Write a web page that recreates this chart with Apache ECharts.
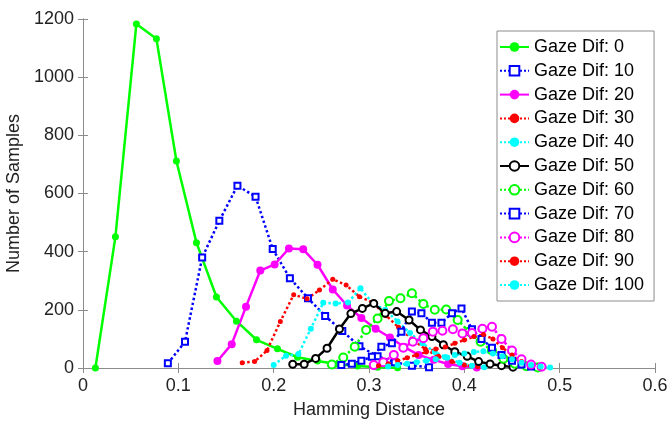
<!DOCTYPE html>
<html>
<head>
<meta charset="utf-8">
<script src="https://cdn.jsdelivr.net/npm/echarts@6/dist/echarts.min.js"></script>
<style>html,body{margin:0;padding:0;background:#fff}#c{width:670px;height:423px}</style>
</head>
<body>
<div id="c"></div>
<script>
var names = ['Gaze Dif: 0','Gaze Dif: 10','Gaze Dif: 20','Gaze Dif: 30','Gaze Dif: 40','Gaze Dif: 50','Gaze Dif: 60','Gaze Dif: 70','Gaze Dif: 80','Gaze Dif: 90','Gaze Dif: 100'];
var xTicks = [0, 0.1, 0.2, 0.3, 0.4, 0.5, 0.6];
var yTicks = [0, 200, 400, 600, 800, 1000, 1200];

var x0 = [0.013,0.034,0.056,0.077,0.098,0.119,0.140,0.161,0.182,0.204,0.225,0.246,0.267,0.288,0.309,0.330];
var y0 = [0,451,1183,1132,712,431,244,161,97,66,37,24,13,7,3,1];
var x10 = [0.089,0.107,0.125,0.143,0.162,0.181,0.199,0.217,0.236,0.254,0.272,0.290,0.309,0.327,0.345,0.363];
var y10 = [16,90,380,506,627,589,409,309,240,179,127,75,40,20,8,3];
var x20 = [0.141,0.156,0.171,0.186,0.201,0.216,0.231,0.246,0.262,0.277,0.292,0.307,0.322,0.337,0.352,0.368,0.383,0.398,0.413];
var y20 = [24,82,211,335,356,411,408,355,270,215,172,135,105,72,45,28,14,6,2];
var x30 = [0.167,0.180,0.193,0.207,0.221,0.235,0.248,0.262,0.276,0.290,0.304,0.318,0.331,0.345,0.359,0.373,0.387,0.400,0.414];
var y30 = [18,22,60,160,252,238,268,305,285,245,225,180,140,100,65,40,22,10,4];
var x40 = [0.200,0.213,0.226,0.239,0.252,0.265,0.278,0.291,0.304,0.317,0.330,0.343,0.356,0.369,0.382,0.395,0.408,0.421];
var y40 = [10,42,48,135,224,222,225,274,222,200,160,120,85,55,35,18,8,3];
var x50 = [0.220,0.232,0.244,0.256,0.269,0.281,0.293,0.305,0.317,0.329,0.342,0.354,0.366,0.378,0.390,0.403,0.415,0.427,0.439,0.451];
var y50 = [13,13,33,68,134,187,205,222,188,194,165,131,108,80,56,40,22,14,8,3];
var x60 = [0.261,0.273,0.285,0.297,0.309,0.321,0.333,0.345,0.357,0.369,0.381,0.393,0.405,0.417,0.429,0.441,0.453,0.465,0.477];
var y60 = [12,36,73,131,170,230,240,257,220,200,201,165,125,90,60,32,15,6,2];
var x70 = [0.271,0.282,0.292,0.303,0.313,0.324,0.334,0.345,0.355,0.366,0.376,0.387,0.397,0.408,0.418,0.429,0.439,0.450,0.460,0.470];
var y70 = [10,15,25,39,73,85,125,194,188,156,156,188,205,133,100,70,45,25,12,5];
var x80 = [0.305,0.315,0.326,0.336,0.346,0.357,0.367,0.377,0.388,0.398,0.408,0.419,0.429,0.439,0.450,0.460,0.470,0.481];
var y80 = [10,20,45,70,90,102,125,128,133,119,120,135,142,100,60,30,12,4];
var x90 = [0.310,0.320,0.330,0.340,0.350,0.360,0.370,0.380,0.390,0.400,0.410,0.420,0.430,0.440,0.450,0.460,0.470,0.480];
var y90 = [8,15,25,35,45,55,65,72,85,96,108,115,100,70,45,22,10,3];
var x100 = [0.320,0.330,0.340,0.350,0.360,0.370,0.380,0.390,0.400,0.410,0.420,0.430,0.440,0.450,0.460,0.470,0.480,0.490];
var y100 = [5,10,15,20,25,30,38,45,50,55,58,50,40,30,18,10,5,2];

var xs = [x0,x10,x20,x30,x40,x50,x60,x70,x80,x90,x100];
var ys = [y0,y10,y20,y30,y40,y50,y60,y70,y80,y90,y100];

var styles = [
  {c:'#00ff00', t:'solid',  s:'circle',      z:7},
  {c:'#0000ff', t:'dotted', s:'emptyRect',   z:6},
  {c:'#ff00ff', t:'solid',  s:'circle',      z:8},
  {c:'#ff0000', t:'dotted', s:'circle',      z:5},
  {c:'#00ffff', t:'dotted', s:'circle',      z:6},
  {c:'#000000', t:'solid',  s:'emptyCircle', z:7},
  {c:'#00ff00', t:'dotted', s:'emptyCircle', z:8},
  {c:'#0000ff', t:'dotted', s:'emptyRect',   z:6},
  {c:'#ff00ff', t:'dotted', s:'emptyCircle', z:8},
  {c:'#ff0000', t:'dotted', s:'circle',      z:5},
  {c:'#00ffff', t:'dotted', s:'circle',      z:6}
];

var series = names.map(function(n, i){
  var d = xs[i].map(function(x, j){ return [x, ys[i][j]]; });
  var st = styles[i];
  return {
    name: n, type: 'line', data: d, symbol: st.s, symbolSize: st.z,
    showAllSymbol: true, animation: false,
    lineStyle: {color: st.c, width: 2.5, type: st.t},
    itemStyle: {color: st.c, borderColor: st.c, borderWidth: st.s.indexOf('empty') === 0 ? 2 : 0}
  };
});

var axisCol = '#8c8c8c';
var font = 'Liberation Sans, Arial, sans-serif';
var chart = echarts.init(document.getElementById('c'), null, {renderer: 'canvas'});
chart.setOption({
  animation: false,
  backgroundColor: '#fff',
  textStyle: {fontFamily: font},
  grid: {left: 83, right: 15, top: 19, bottom: 55, containLabel: false, outerBoundsMode: 'none'},
  legend: {
    orient: 'vertical', left: 497, top: 31,
    padding: [7, 10, 7, 2],
    itemWidth: 29, itemHeight: 12, itemGap: 5.8, itemTextGap: 2,
    backgroundColor: '#fff', borderColor: '#8c8c8c', borderWidth: 1,
    textStyle: {fontSize: 18, color: '#000', fontFamily: font, lineHeight: 18},
    data: names
  },
  xAxis: [{
    type: 'value', min: xTicks[0], max: xTicks[xTicks.length-1], interval: 0.1,
    name: 'Hamming Distance', nameLocation: 'middle', nameGap: 33,
    nameTextStyle: {fontSize: 18, color: '#222', fontFamily: font},
    axisLine: {show: true, lineStyle: {color: axisCol, width: 1}},
    axisTick: {show: true, inside: true, length: 5, lineStyle: {color: axisCol}},
    axisLabel: {fontSize: 18, color: '#222', margin: 9, fontFamily: font},
    splitLine: {show: false}
  }, {
    type: 'value', position: 'top', min: xTicks[0], max: xTicks[xTicks.length-1], interval: 0.1,
    axisLine: {show: true, lineStyle: {color: axisCol, width: 1}},
    axisTick: {show: true, inside: true, length: 5, lineStyle: {color: axisCol}},
    axisLabel: {show: false}, splitLine: {show: false}
  }],
  yAxis: [{
    type: 'value', min: yTicks[0], max: yTicks[yTicks.length-1], interval: 200,
    name: 'Number of Samples', nameLocation: 'middle', nameGap: 48,
    nameTextStyle: {fontSize: 18, color: '#222', fontFamily: font},
    axisLine: {show: true, lineStyle: {color: axisCol, width: 1}},
    axisTick: {show: true, inside: true, length: 5, lineStyle: {color: axisCol}},
    axisLabel: {fontSize: 18, color: '#222', margin: 9, fontFamily: font, formatter: function(v){ return String(v); }},
    splitLine: {show: false}
  }, {
    type: 'value', position: 'right', min: yTicks[0], max: yTicks[yTicks.length-1], interval: 200,
    axisLine: {show: true, lineStyle: {color: axisCol, width: 1}},
    axisTick: {show: true, inside: true, length: 5, lineStyle: {color: axisCol}},
    axisLabel: {show: false}, splitLine: {show: false}
  }],
  series: series
});
</script>
</body>
</html>
